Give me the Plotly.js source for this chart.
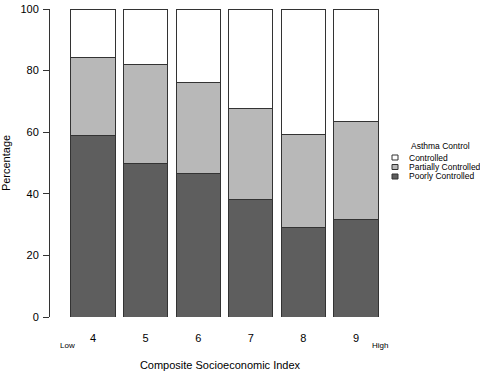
<!DOCTYPE html>
<html><head><meta charset="utf-8">
<script src="https://cdn.plot.ly/plotly-3.0.1.min.js"></script>
<style>html,body{margin:0;padding:0;background:#fff}</style>
</head><body>
<div id="chart" style="width:480px;height:373px"></div>
<script>
const categories = ["4", "5", "6", "7", "8", "9"];
const seriesNames = ["Poorly Controlled", "Partially Controlled", "Controlled"];
const poorly = [58.8, 50.0, 46.6, 38.2, 29.2, 31.7];
const partially = [25.5, 31.9, 29.6, 29.4, 30.2, 31.7];
const controlled = [15.7, 18.1, 23.8, 32.4, 40.6, 36.6];
const colors = ["#5e5e5e", "#b8b8b8", "#ffffff"];
const yTicks = [0, 20, 40, 60, 80, 100];

const values = [poorly, partially, controlled];
const traces = values.map((v, i) => ({
  type: "bar", x: categories, y: v, name: seriesNames[i],
  marker: {color: colors[i], line: {color: "#333333", width: 1}},
  showlegend: false, hoverinfo: "skip"
}));

const font = {family: "Liberation Sans, Arial, sans-serif", color: "#000"};
const W = 340, H = 308, L = 50, T = 9;
const px = x => (x - L) / W, py = y => 1 - (y - T) / H;
const annotations = [
  {text: "Low", x: px(67), xref: "paper", y: py(345), yref: "paper", showarrow: false, font: {...font, size: 8}, xanchor: "center", yanchor: "middle"},
  {text: "High", x: px(380), xref: "paper", y: py(345), yref: "paper", showarrow: false, font: {...font, size: 8}, xanchor: "center", yanchor: "middle"},
  {text: "Asthma Control", x: px(440), xref: "paper", y: py(146), yref: "paper", showarrow: false, font: {...font, size: 8.5}, xanchor: "center", yanchor: "middle"}
];
const shapes = [];
const legendOrder = [2, 1, 0];
legendOrder.forEach((si, k) => {
  const yc = 157.5 + k * 9.5;
  shapes.push({type: "rect", xref: "paper", yref: "paper", x0: px(392), x1: px(398), y0: py(yc - 2.5), y1: py(yc + 2.5),
    fillcolor: colors[si], line: {color: "#333", width: 1}});
  annotations.push({text: seriesNames[si], xref: "paper", yref: "paper", x: px(407), y: py(yc), xanchor: "left", yanchor: "middle",
    showarrow: false, font: {...font, size: 8.5}});
});

const layout = {
  width: 480, height: 373,
  margin: {l: L, r: 480 - L - W, t: T, b: 373 - T - H, pad: 0},
  paper_bgcolor: "#fff", plot_bgcolor: "#fff",
  barmode: "stack", bargap: 0.16,
  font: font,
  xaxis: {type: "category", range: [-0.817, 5.646], showgrid: false, zeroline: false, showline: false,
    ticks: "", ticklabelstandoff: 13, tickfont: {...font, size: 11},
    title: {text: "Composite Socioeconomic Index", font: {...font, size: 11}, standoff: 18}},
  yaxis: {range: [0, 100], tickvals: yTicks, ticktext: yTicks.map(String), showgrid: false, zeroline: false,
    showline: true, linecolor: "#333", linewidth: 1, ticks: "outside", ticklen: 6, tickcolor: "#333",
    tickfont: {...font, size: 11}, ticklabelstandoff: 2,
    title: {text: "Percentage", font: {...font, size: 11}, standoff: 8}},
  annotations: annotations, shapes: shapes
};
Plotly.newPlot("chart", traces, layout, {staticPlot: true, displayModeBar: false});
</script>
</body></html>
